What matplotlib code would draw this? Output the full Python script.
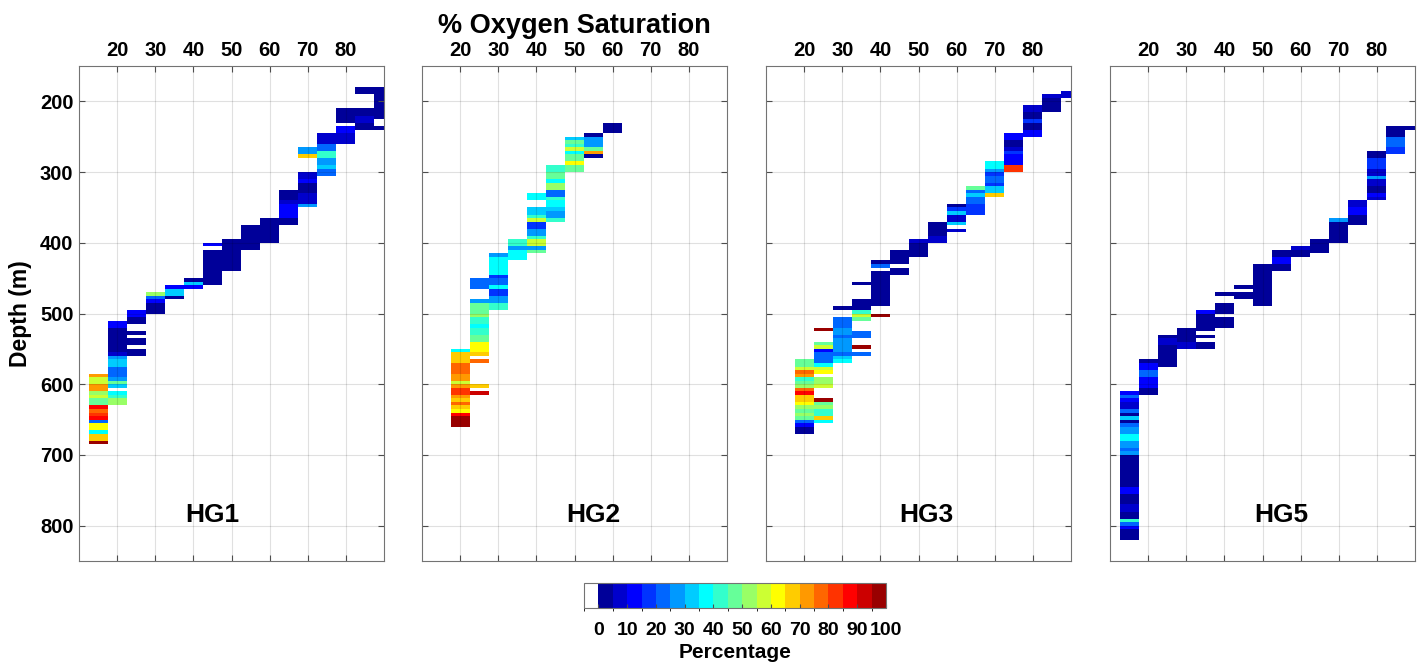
import numpy as np
import matplotlib.pyplot as plt
from matplotlib.colors import ListedColormap, BoundaryNorm

plt.rcParams['font.family'] = ['Liberation Sans', 'DejaVu Sans']
plt.rcParams['font.weight'] = 'bold'

# data: (oxygen bin centre %, depth top m, depth bottom m, percentage)
hg1 = [(90,180,225,2),(90,235,240,2),
       (85,180,190,2),(85,210,220,2),(85,220,230,7),(85,230,240,2),
       (80,210,230,2),(80,235,245,12),(80,245,260,7),
       (75,245,260,7),(75,260,270,22),(75,270,280,42),(75,280,290,27),(75,290,295,32),(75,295,305,22),
       (70,265,275,27),(70,275,280,67),(70,300,310,7),(70,310,315,12),(70,315,330,2),(70,330,345,7),(70,345,350,27),
       (65,325,340,2),(65,340,345,7),(65,345,365,12),(65,365,375,2),
       (60,365,400,2),(55,375,410,2),(50,395,440,2),
       (45,400,405,12),(45,410,460,2),
       (40,450,455,2),(40,455,460,32),(40,460,465,12),
       (35,460,465,12),(35,465,475,32),(35,475,480,2),
       (30,470,475,52),(30,475,480,22),(30,480,485,12),(30,485,500,2),
       (25,495,505,12),(25,505,515,2),(25,525,530,2),(25,535,545,2),(25,550,560,2),
       (20,510,520,12),(20,520,555,2),(20,555,560,7),(20,560,565,27),(20,565,575,32),(20,575,590,22),
       (20,590,595,27),(20,595,600,47),(20,600,605,32),(20,610,615,37),(20,615,620,42),(20,620,630,52),
       (15,585,590,72),(15,590,600,57),(15,600,610,72),(15,610,615,52),(15,615,620,57),(15,620,630,47),
       (15,630,635,87),(15,635,640,77),(15,640,645,82),(15,645,650,87),(15,650,655,22),(15,655,665,62),
       (15,665,670,37),(15,670,680,67),(15,680,685,97)]

hg2 = [(60,230,245,2),
       (55,245,250,2),(55,250,265,27),(55,265,270,47),(55,270,275,72),(55,275,280,2),
       (50,250,255,32),(50,255,260,47),(50,260,265,42),(50,265,270,57),(50,270,275,37),(50,275,285,47),
       (50,285,290,62),(50,290,300,47),
       (45,290,300,42),(45,300,310,47),(45,310,315,37),(45,315,325,52),(45,325,335,22),(45,335,340,42),
       (45,340,350,37),(45,350,355,32),(45,355,365,27),(45,365,370,42),
       (40,330,340,37),(40,350,360,32),(40,360,365,42),(40,365,370,57),(40,370,380,17),(40,380,390,27),
       (40,390,395,42),(40,395,405,57),(40,405,410,27),(40,410,415,47),
       (35,395,405,42),(35,405,410,27),(35,410,425,37),
       (30,415,420,27),(30,420,445,37),(30,445,450,17),(30,450,460,22),(30,460,465,37),(30,465,475,17),
       (30,475,485,27),(30,485,495,42),
       (25,450,465,22),(25,480,485,27),(25,485,500,47),(25,500,505,52),(25,505,515,42),(25,515,520,37),
       (25,520,530,42),(25,530,540,47),(25,540,555,62),(25,555,560,67),(25,565,570,77),(25,600,605,67),
       (25,610,615,92),
       (20,550,555,37),(20,555,570,67),(20,570,585,77),(20,585,595,72),(20,595,600,57),(20,600,605,72),
       (20,605,615,82),(20,615,620,72),(20,620,625,67),(20,625,630,77),(20,630,635,67),(20,635,640,62),
       (20,640,645,87),(20,645,660,97)]

hg3 = [(90,185,195,7),
       (85,190,195,7),(85,195,215,2),
       (80,205,215,7),(80,215,225,2),(80,225,230,17),(80,230,240,2),(80,240,250,12),
       (75,245,255,12),(75,255,265,2),(75,265,270,7),(75,270,275,17),(75,275,290,12),(75,290,300,82),
       (70,285,295,37),(70,295,300,27),(70,300,305,17),(70,305,315,22),(70,315,320,17),(70,320,330,32),
       (70,330,335,67),
       (65,320,325,47),(65,325,330,22),(65,330,335,32),(65,335,345,22),(65,345,360,17),
       (60,345,350,2),(60,350,355,17),(60,355,360,32),(60,360,370,7),(60,370,375,32),(60,380,385,7),
       (55,370,390,2),(55,390,400,7),
       (50,395,400,7),(50,400,420,2),
       (45,410,430,2),(45,435,445,2),
       (40,425,430,2),(40,430,435,22),(40,440,490,2),(40,500,505,97),
       (35,455,460,2),(35,480,495,2),(35,495,500,42),(35,500,505,57),(35,505,510,47),(35,525,535,22),
       (35,545,550,97),(35,555,560,22),
       (30,490,495,2),(30,505,520,22),(30,520,530,27),(30,530,535,22),(30,535,555,27),(30,555,560,22),
       (30,560,565,32),(30,565,570,37),
       (25,520,525,97),(25,540,545,47),(25,545,550,57),(25,550,555,12),(25,555,570,22),(25,570,575,37),
       (25,575,580,57),(25,580,585,62),(25,590,600,52),(25,600,605,57),(25,620,625,97),(25,625,630,47),
       (25,630,635,52),(25,635,645,42),(25,645,650,67),(25,650,655,37),
       (20,565,575,47),(20,575,580,57),(20,580,585,77),(20,585,590,72),(20,590,595,42),(20,595,600,47),
       (20,600,605,52),(20,605,610,77),(20,610,615,87),(20,615,625,67),(20,625,630,62),(20,630,635,52),
       (20,635,640,47),(20,640,645,52),(20,645,650,47),(20,650,655,22),(20,655,660,12),(20,660,670,2)]

hg5 = [(90,235,240,2),
       (85,235,250,2),(85,250,265,22),(85,265,275,17),
       (80,270,280,2),(80,280,295,17),(80,295,305,7),(80,305,310,27),(80,310,320,7),(80,320,330,2),
       (80,330,335,12),(80,335,340,7),
       (75,340,350,7),(75,350,360,12),(75,360,375,2),
       (70,365,370,27),(70,370,400,2),
       (65,395,415,2),
       (60,405,410,7),(60,410,420,2),
       (55,410,420,2),(55,420,430,12),(55,430,440,2),
       (50,430,490,2),
       (45,460,465,2),(45,470,480,2),
       (40,470,475,2),(40,485,500,2),(40,505,520,2),
       (35,495,500,12),(35,500,525,2),(35,530,535,2),(35,540,550,2),
       (30,520,540,2),(30,540,550,7),
       (25,530,535,2),(25,535,545,7),(25,545,575,2),
       (20,565,570,2),(20,570,580,12),(20,580,590,22),(20,590,605,12),(20,605,615,2),
       (15,610,615,12),(15,615,620,22),(15,620,625,12),(15,625,635,7),(15,635,640,22),(15,640,645,2),
       (15,645,650,32),(15,650,655,2),(15,655,660,22),(15,660,670,27),(15,670,680,37),(15,680,690,27),
       (15,690,695,22),(15,695,700,27),(15,700,745,2),(15,745,755,12),(15,755,770,2),(15,770,780,7),
       (15,780,790,2),(15,790,795,42),(15,795,800,22),(15,800,805,12),(15,805,820,2)]

panels = [hg1, hg2, hg3, hg5]
names = ['HG1', 'HG2', 'HG3', 'HG5']
o2_edges = np.arange(12.5, 93, 5)
depth_edges = np.arange(150, 851, 5)

# MATLAB style jet(20) with white for the below-zero level
def matlab_jet(m):
    n = int(np.ceil(m / 4))
    u = np.concatenate([np.arange(1, n + 1) / n, np.ones(n - 1), np.arange(n, 0, -1) / n])
    g = int(np.ceil(n / 2)) - (1 if m % 4 == 1 else 0) + np.arange(1, len(u) + 1)
    r, b = g + n, g - n
    cm = np.zeros((m, 3))
    for idx, ch in ((r, 0), (g, 1), (b, 2)):
        ok = (idx >= 1) & (idx <= m)
        cm[idx[ok] - 1, ch] = u[ok]
    return cm

cmap = ListedColormap(np.vstack([[1, 1, 1], matlab_jet(20)]))
norm = BoundaryNorm(np.arange(-5, 101, 5), cmap.N)

fig = plt.figure(figsize=(14.22, 6.65), dpi=100)
lefts = [79, 422, 766, 1110]
label_pos = [(45, 785), (55, 785), (52, 785), (55, 785)]
W, H = 1422, 665

for k, (data, name) in enumerate(zip(panels, names)):
    ax = fig.add_axes([lefts[k] / W, 104 / H, 305 / W, 495 / H])
    Z = np.full((len(depth_edges) - 1, len(o2_edges) - 1), np.nan)
    for o2, d0, d1, val in data:
        j = int(round((o2 - 15) / 5))
        i0 = int(round((d0 - 150) / 5))
        i1 = int(round((d1 - 150) / 5))
        Z[i0:i1, j] = val
    mesh = ax.pcolormesh(o2_edges, depth_edges, np.ma.masked_invalid(Z), cmap=cmap, norm=norm,
                         shading='flat', antialiased=False, linewidth=0)
    ax.set_xlim(10, 90)
    ax.set_ylim(850, 150)
    ax.set_xticks(np.arange(20, 81, 10))
    ax.set_yticks(np.arange(200, 801, 100))
    ax.grid(True, color='k', alpha=0.12, linewidth=0.8)
    ax.tick_params(direction='in', top=True, bottom=True, left=True, right=True,
                   labeltop=True, labelbottom=False, labelsize=14.5, length=4,
                   color='0.3', pad=4)
    for lab in ax.get_xticklabels() + ax.get_yticklabels():
        lab.set_fontweight('bold')
    if k > 0:
        ax.set_yticklabels([])
    for sp in ax.spines.values():
        sp.set_color('0.45')
        sp.set_linewidth(0.8)
    ax.text(label_pos[k][0], label_pos[k][1], name, ha='center', va='center',
            fontsize=19, fontweight='bold')
    if k == 0:
        ax.set_ylabel('Depth (m)', fontsize=16.5, fontweight='bold', labelpad=6)
    if k == 1:
        ax.xaxis.set_label_position('top')
        ax.set_xlabel('% Oxygen Saturation', fontsize=19.5, fontweight='bold', labelpad=6)

cax = fig.add_axes([584 / W, 57 / H, 302 / W, 25 / H])
cb = fig.colorbar(mesh, cax=cax, orientation='horizontal', ticks=np.arange(0, 101, 10))
cb.ax.tick_params(labelsize=14, direction='in', length=3, color='0.3', pad=10)
for lab in cb.ax.get_xticklabels():
    lab.set_fontweight('bold')
cb.outline.set_edgecolor('0.45')
cb.set_label('Percentage', fontsize=15, fontweight='bold', labelpad=3)

fig.savefig('out.png', dpi=100)
